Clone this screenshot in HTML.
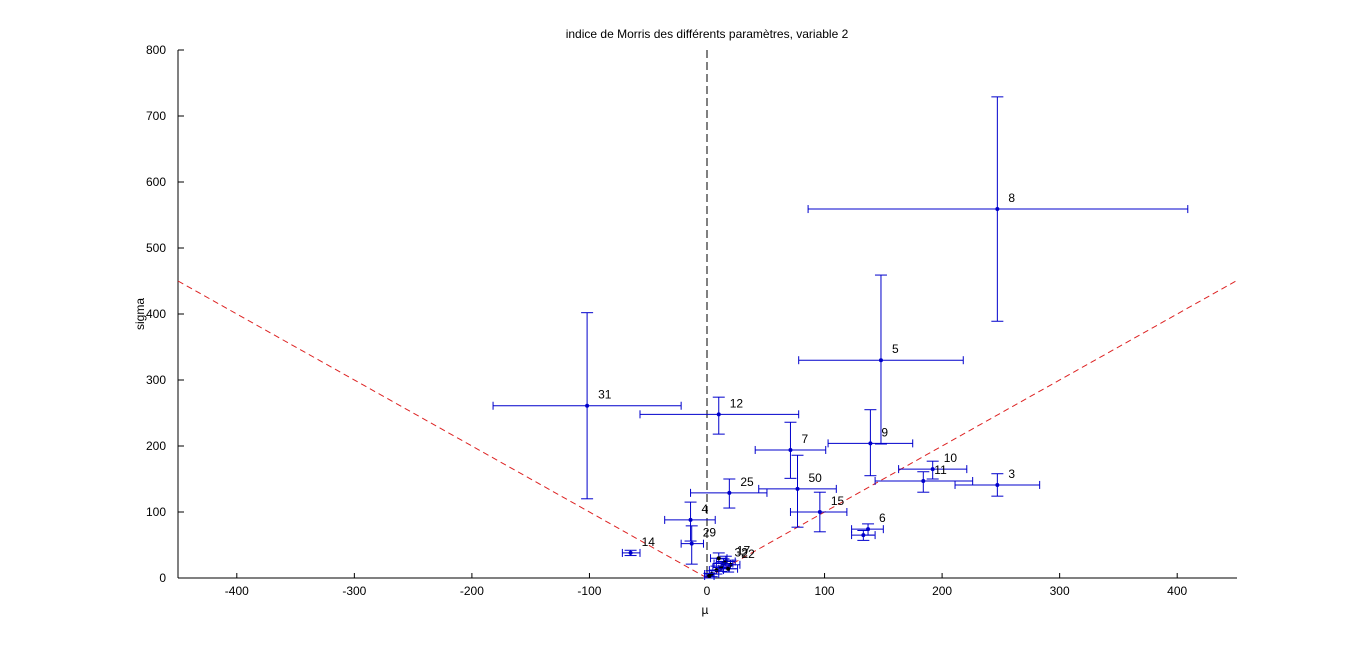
<!DOCTYPE html>
<html><head><meta charset="utf-8"><style>
body{margin:0;background:#fff;}
svg{display:block;font-family:"Liberation Sans",sans-serif;}
</style></head><body>
<svg id="chart" width="1367" height="651" viewBox="0 0 1367 651">
<rect width="1367" height="651" fill="#fff"/>
<g id="g"></g>
</svg>
<script>
const labels = ["8","5","9","10","11","3","6","6b","15","50","7","12","31","25","4","29","14","17","32","22","c1","c2","c3","c4","c5","c6"];
const shown  = [true,true,true,true,true,true,true,false,true,true,true,true,true,true,true,true,true,true,true,true,false,false,false,false,false,false];
const mu     = [247,148,139,192,184,247,137,133,96,77,71,10,-102,19,-14,-13,-65,16,14,20,12,8,18,4,10,2];
const sigma  = [559,330,204,165,147,141,74,65,100,135,194,248,261,129,88,52,38,25,22,20,16,12,14,6,30,3];
const muLo   = [86,78,103,163,143,211,123,123,71,44,41,-57,-182,-14,-36,-22,-72,8,6,12,5,2,10,-2,3,-2];
const muHi   = [409,218,175,221,226,283,150,143,119,110,101,78,-22,51,7,-3,-57,24,22,28,19,14,26,10,17,6];
const sgLo   = [389,203,155,150,130,124,65,57,70,77,151,218,120,106,56,21,34,18,15,14,10,6,9,2,22,0];
const sgHi   = [729,459,255,177,161,158,82,72,130,186,236,274,402,150,115,79,42,33,29,27,23,18,20,11,38,7];
const xTicks = [-400,-300,-200,-100,0,100,200,300,400];
const yTicks = [0,100,200,300,400,500,600,700,800];

const X = v => 707 + v*1.1755;
const Y = v => 578 - v*0.66;
const g = document.getElementById('g');
const NS = "http://www.w3.org/2000/svg";
function mk(tag, attrs, parent){
  const e = document.createElementNS(NS, tag);
  for (const k in attrs) e.setAttribute(k, attrs[k]);
  (parent||g).appendChild(e);
  return e;
}
let t = mk('text',{x:707,y:38,'text-anchor':'middle','font-size':12,fill:'#000'});
t.textContent = "indice de Morris des différents paramètres, variable 2";


let ax = mk('line',{x1:178,y1:578,x2:1237,y2:578,stroke:'#000'});


let ay = mk('line',{x1:178,y1:50,x2:178,y2:578,stroke:'#000'});


xTicks.forEach(v=>{
  mk('line',{x1:X(v),y1:578,x2:X(v),y2:573,stroke:'#000'});
  const l = mk('text',{x:X(v),y:595,'text-anchor':'middle','font-size':12});
  l.textContent = v;
  
  
});
yTicks.forEach(v=>{
  mk('line',{x1:178,y1:Y(v),x2:184,y2:Y(v),stroke:'#000'});
  const l = mk('text',{x:166,y:Y(v)+4,'text-anchor':'end','font-size':12});
  l.textContent = v;
  
  
});
let xl = mk('text',{x:705,y:614,'text-anchor':'middle','font-size':12});
xl.textContent = "µ";


let yl = mk('text',{x:144,y:314,'text-anchor':'middle','font-size':12,transform:'rotate(-90 144 314)'});
yl.textContent = "sigma";


let vz = mk('line',{x1:X(0),y1:50,x2:X(0),y2:578,stroke:'#000','stroke-dasharray':'8,4'});


let rl = mk('line',{x1:X(-450),y1:Y(450),x2:X(0),y2:Y(0),stroke:'#d22','stroke-dasharray':'6,4'});


let rr = mk('line',{x1:X(0),y1:Y(0),x2:X(450),y2:Y(450),stroke:'#d22','stroke-dasharray':'6,4'});


labels.forEach((lab,i)=>{
  const grp = mk('g',{stroke:'#0000cc','stroke-width':1});
  
  
  const cx = X(mu[i]), cy = Y(sigma[i]);
  const x1 = X(muLo[i]), x2 = X(muHi[i]), y1 = Y(sgHi[i]), y2 = Y(sgLo[i]);
  mk('line',{x1:x1,y1:cy,x2:x2,y2:cy},grp);
  mk('line',{x1:x1,y1:cy-4,x2:x1,y2:cy+4},grp);
  mk('line',{x1:x2,y1:cy-4,x2:x2,y2:cy+4},grp);
  mk('line',{x1:cx,y1:y1,x2:cx,y2:y2},grp);
  mk('line',{x1:cx-6,y1:y1,x2:cx+6,y2:y1},grp);
  mk('line',{x1:cx-6,y1:y2,x2:cx+6,y2:y2},grp);
  mk('circle',{cx:cx,cy:cy,r:2,fill:i>=17?'#000':'#0000cc',stroke:'none'},grp);
  if (shown[i]) {
    const tx = mk('text',{x:cx+11,y:cy-7,'font-size':12,fill:'#000',stroke:'none'},grp);
    tx.textContent = lab;
  }
});
</script>
</body></html>
